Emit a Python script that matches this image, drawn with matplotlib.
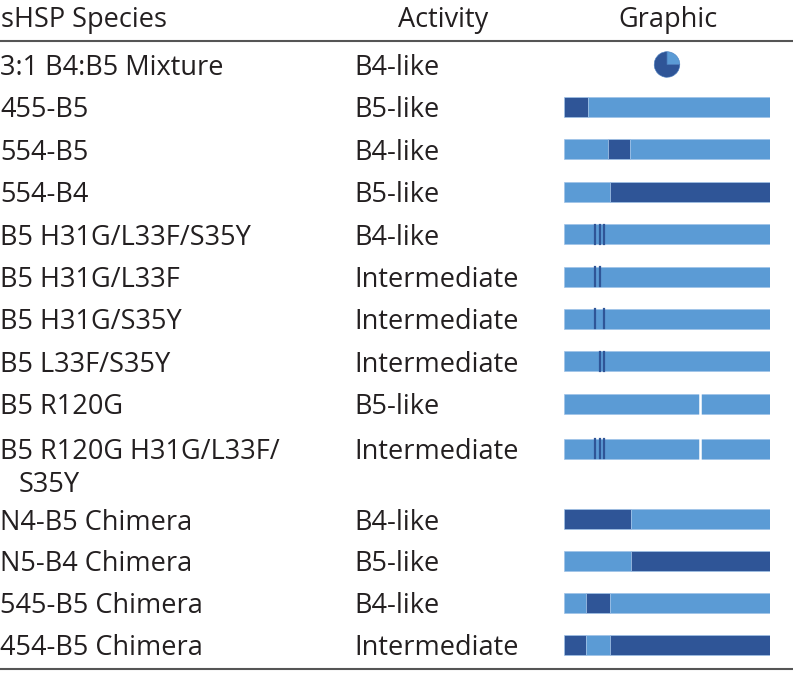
import matplotlib
matplotlib.use("Agg")
import matplotlib.pyplot as plt

plt.rcParams['font.family'] = ['Open Sans', 'DejaVu Sans']

# table content
species = ["3:1 B4:B5 Mixture", "455-B5", "554-B5", "554-B4",
           "B5 H31G/L33F/S35Y", "B5 H31G/L33F", "B5 H31G/S35Y", "B5 L33F/S35Y",
           "B5 R120G", "B5 R120G H31G/L33F/\nS35Y",
           "N4-B5 Chimera", "N5-B4 Chimera", "545-B5 Chimera", "454-B5 Chimera"]
activity = ["B4-like", "B5-like", "B4-like", "B5-like", "B4-like",
            "Intermediate", "Intermediate", "Intermediate", "B5-like", "Intermediate",
            "B4-like", "B5-like", "B4-like", "Intermediate"]

# graphic column: percent along the sequence bar
mixture = [1, 3]  # B5 : B4 share in the pie
seg_edges = [None, [0, 11.7, 100], [0, 21.4, 32.0, 100], [0, 22.3, 100],
             [0, 100], [0, 100], [0, 100], [0, 100], [0, 100], [0, 100],
             [0, 32.7, 100], [0, 32.7, 100], [0, 10.5, 22.3, 100], [0, 10.5, 22.3, 100]]
seg_src = [None, ["B4", "B5"], ["B5", "B4", "B5"], ["B5", "B4"],
           ["B5"], ["B5"], ["B5"], ["B5"], ["B5"], ["B5"],
           ["B4", "B5"], ["B5", "B4"], ["B5", "B4", "B5"], ["B4", "B5", "B4"]]
mut_lines = [[], [], [], [], [15.2, 17.3, 19.3], [15.2, 17.3], [15.2, 19.3], [17.3, 19.3],
             [], [15.2, 17.3, 19.3], [], [], [], []]
r120_gap = [[], [], [], [], [], [], [], [], [65.8], [65.8], [], [], [], []]

colors = {"B4": "#2F5597", "B5": "#5B9BD5"}
txt = "#231F20"
W, H = 793, 673

fig = plt.figure(figsize=(W / 100, H / 100), dpi=100)
ax = fig.add_axes([0, 0, 1, 1])
ax.set_xlim(0, W)
ax.set_ylim(H, 0)
ax.axis("off")

gax = fig.add_axes([564 / W, 0, 206 / W, 1])
gax.set_xlim(0, 100)
gax.set_ylim(H, 0)
gax.axis("off")

fs = 19.5
ax.text(1, 16.5, "sHSP Species", fontsize=fs, color=txt, va="center_baseline")
ax.text(443, 16.5, "Activity", fontsize=fs, color=txt, va="center_baseline", ha="center")
ax.text(668, 16.5, "Graphic", fontsize=fs, color=txt, va="center_baseline", ha="center")
ax.plot([0, W], [40.5, 40.5], color="#555555", lw=1.5)
ax.plot([0, W], [668.5, 668.5], color="#555555", lw=1.5)

# row pitches (the wrapped row is taller)
pitch = [42.4] * 8 + [45.3, 70, 41.9, 41.9, 41.9]
y = 64.5
for i, name in enumerate(species):
    if i > 0:
        y += pitch[i - 1]
    lines = name.split("\n")
    ax.text(0, y, lines[0], fontsize=fs, color=txt, va="center_baseline")
    for k, extra in enumerate(lines[1:]):
        ax.text(19, y + 33 * (k + 1), extra, fontsize=fs, color=txt, va="center_baseline")
    ax.text(354, y, activity[i], fontsize=fs, color=txt, va="center_baseline")

    if seg_edges[i] is None:
        pax = fig.add_axes([(667 - 16) / W, 1 - (y + 16) / H, 32 / W, 32 / H])
        pax.pie(mixture, colors=[colors["B5"], colors["B4"]], startangle=90,
                counterclock=False, wedgeprops=dict(linewidth=0.4, edgecolor="#4a7fc0"))
        pax.set_aspect("equal")
        continue

    edges = seg_edges[i]
    for a, b, src in zip(edges[:-1], edges[1:], seg_src[i]):
        gax.barh(y, b - a, left=a, height=20, color=colors[src],
                 edgecolor="#9fc2e8", linewidth=0.5)
    for m in mut_lines[i]:
        gax.plot([m, m], [y - 9.5, y + 9.5], color=colors["B4"], lw=1.6)
    for g in r120_gap[i]:
        gax.plot([g, g], [y - 10, y + 10], color="white", lw=1.8)

fig.savefig("out.png", dpi=100)
